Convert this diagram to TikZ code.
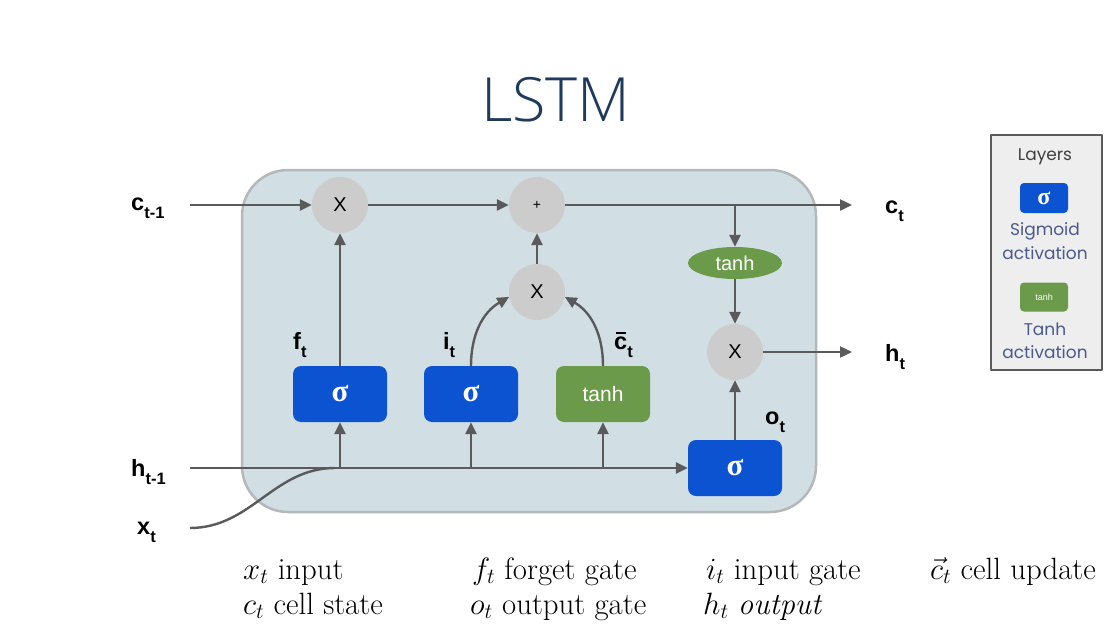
\RequirePackage{fix-cm}
\documentclass[tikz,border=0pt]{standalone}
\usepackage{fontspec}
\usetikzlibrary{arrows.meta,shapes.geometric}
\newfontfamily\lblfont{Liberation Sans}
\newfontfamily\sigfont{Liberation Serif}
\newfontfamily\legfont{Poppins}
\newfontfamily\titlefont{Open Sans}[UprightFont={* Light}]
\definecolor{cellfill}{HTML}{D1DFE5}
\definecolor{celledge}{HTML}{B4B8BA}
\definecolor{opgray}{HTML}{CCCCCC}
\definecolor{sigblue}{HTML}{0B53D0}
\definecolor{tanhgreen}{HTML}{6A9A4A}
\definecolor{linegray}{HTML}{5A5A5A}
\definecolor{titleblue}{HTML}{1F3B5C}
\definecolor{legfill}{HTML}{EEEEEE}
\definecolor{legtext}{HTML}{4B5A8C}
\newcommand{\cbar}{{\ooalign{c\cr\hidewidth\raisebox{0.62em}{\rule{0.42em}{0.09em}}\hidewidth\cr}}}
\newcommand{\lsub}[1]{\raisebox{-0.36em}{\fontsize{16.5}{16.5}\selectfont#1}}
\tikzset{
  cellbox/.style={draw=celledge,line width=2.5pt,fill=cellfill,rounded corners=46pt,minimum width=574pt,minimum height=342pt},
  op/.style={circle,fill=opgray,minimum size=56pt,inner sep=0pt,font=\lblfont\fontsize{20}{20}\selectfont},
  sig/.style={rectangle,rounded corners=8pt,fill=sigblue,text=white,minimum width=94pt,minimum height=56pt,inner sep=0pt,font=\sigfont\bfseries\fontsize{31}{31}\selectfont},
  act/.style={sig,fill=tanhgreen,font=\lblfont\fontsize{21}{21}\selectfont},
  lbl/.style={anchor=base west,inner sep=0pt,font=\lblfont\bfseries\fontsize{23.5}{23.5}\selectfont},
  wire/.style={draw=linegray,line width=2.4pt},
  legtxt/.style={inner sep=0pt,text=legtext,font=\legfont\fontsize{17}{17}\selectfont},
  note/.style={anchor=base west,inner sep=0pt,font=\fontsize{30.8}{34}\selectfont}
}
\begin{document}
\begin{tikzpicture}[x=1pt,y=-1pt,>={Triangle[length=12pt,width=11pt]},line join=round]
\useasboundingbox (0,0) rectangle (1112,626);
\node[font=\titlefont\fontsize{61}{61}\selectfont,text=titleblue] (title) at (556,100) {LSTM};
% cell
\node[cellbox] (cell) at (529,341) {};
\node[op] (x1) at (340,205) {X};
\node[op,font=\lblfont\fontsize{14}{14}\selectfont] (plus) at (537,205) {+};
\node[op] (x2) at (537,292) {X};
\node[op] (x3) at (735,352) {X};
\node[ellipse,fill=tanhgreen,text=white,minimum width=94pt,minimum height=32pt,inner sep=0pt,font=\lblfont\fontsize{20}{20}\selectfont] (tanhe) at (735,263) {tanh};
\node[sig] (fbox) at (340,394) {σ};
\node[sig] (ibox) at (471,394) {σ};
\node[act] (tbox) at (603,394) {tanh};
\node[sig] (obox) at (735,468) {σ};
% inputs and outputs
\coordinate (cin) at (190,205);
\coordinate (cout) at (852,205);
\coordinate (hin) at (190,468);
\coordinate (hout) at (852,352);
\coordinate (xin) at (190,528);
\coordinate (xj) at (335,468);
\coordinate (br) at (plus -| tanhe);
\node[lbl] (lc) at (131,210) {c\lsub{t-1}};
\node[lbl] (lh) at (131,476) {h\lsub{t-1}};
\node[lbl] (lx) at (137,534) {x\lsub{t}};
\node[lbl] (lct) at (885,213) {c\lsub{t}};
\node[lbl] (lht) at (885,361) {h\lsub{t}};
\node[lbl] (lf) at (293,349) {f\lsub{t}};
\node[lbl] (li) at (443,349) {i\lsub{t}};
\node[lbl] (lcb) at (614,349) {\cbar\lsub{t}};
\node[lbl] (lo) at (765,424) {o\lsub{t}};
% wires
\draw[wire,->] (cin) -- (x1);
\draw[wire,->] (x1) -- (plus);
\draw[wire,->] (plus) -- (cout);
\draw[wire,->] (br) -- (tanhe);
\draw[wire,->] (tanhe) -- (x3);
\draw[wire,->] (x3) -- (hout);
\draw[wire,->] (fbox) -- (x1);
\draw[wire,->] (x2) -- (plus);
\draw[wire,->] (ibox.north) to[out=90,in=210] (x2.190);
\draw[wire,->] (tbox.north) to[out=90,in=-30] (x2.-10);
\draw[wire,->] (obox) -- (x3);
\draw[wire,->] (hin) -- (obox);
\draw[wire] (xin) to[out=0,in=180] (xj);
\foreach \g in {fbox,ibox,tbox}
  \draw[wire,->] (\g.south |- hin) -- (\g);
% legend
\node[draw=linegray,line width=2pt,fill=legfill,minimum width=111pt,minimum height=235pt] (leg) at (1046,252) {};
\node[legtxt,text=black!75] (legt) at (1045,157) {Layers};
\node[sig,minimum width=48pt,minimum height=30pt,rounded corners=4pt,font=\sigfont\bfseries\fontsize{24}{24}\selectfont] (legsig) at (1044,198) {σ};
\node[legtxt] (legs1) at (1045,231) {Sigmoid};
\node[legtxt] (legs2) at (1045,253) {activation};
\node[act,minimum width=48pt,minimum height=29pt,rounded corners=4pt,font=\lblfont\fontsize{9}{9}\selectfont] (legtanh) at (1044,297) {tanh};
\node[legtxt] (legt1) at (1045,329) {Tanh};
\node[legtxt] (legt2) at (1045,352) {activation};
% notation
\node[note] (n1) at (243,579) {$x_t$ input};
\node[note] (n2) at (472,579) {$f_t$ forget gate};
\node[note] (n3) at (706,579) {$i_t$ input gate};
\node[note] (n4) at (930,579) {$\vec{c}_t$ cell update};
\node[note] (n5) at (243,614) {$c_t$ cell state};
\node[note] (n6) at (470,614) {$o_t$ output gate};
\node[note] (n7) at (703,614) {$h_t$ \textit{output}};
\end{tikzpicture}
\end{document}
